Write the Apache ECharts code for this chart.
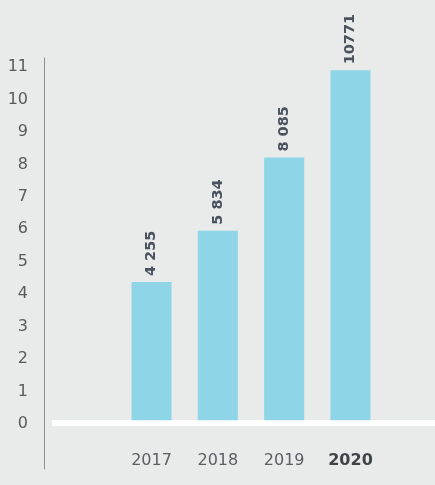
<!DOCTYPE html>
<html lang="en">
<head>
    <meta charset="utf-8"/>
    <title>Chart</title>
    <script src="https://cdn.jsdelivr.net/npm/echarts@6/dist/echarts.min.js"></script>
    <style>
        html, body { margin: 0; padding: 0; background: #e9eaea; }
        #main { width: 435px; height: 485px; }
    </style>
</head>
<body>
<div id="main"></div>
<script>
    // categories (empty slots on both ends keep the spacing of the original)
    var years = ['', '2017', '2018', '2019', '2020', ''];
    var values = [null, 4255, 5834, 8085, 10771, null];
    var valueLabels = ['', '4 255', '5 834', '8 085', '10771', ''];
    var yTicks = [0, 1000, 2000, 3000, 4000, 5000, 6000, 7000, 8000, 9000, 10000, 11000];

    var chartDom = document.getElementById('main');
    var myChart = echarts.init(chartDom);

    var xData = years.map(function (y, i) {
        if (i === 4) {
            return {value: y, textStyle: {fontWeight: 'bold', color: '#3f4448'}};
        }
        return y;
    });

    var option = {
        backgroundColor: '#e9eaea',
        textStyle: {fontFamily: 'DejaVu Sans'},
        grid: {left: 52, width: 398, top: 58, height: 411, outerBoundsMode: 'none'},
        xAxis: {
            type: 'category',
            data: xData,
            position: 'bottom',
            offset: -46,
            axisLine: {onZero: false, lineStyle: {color: '#ffffff', width: 6, cap: 'butt'}},
            axisTick: {show: false},
            axisLabel: {
                margin: 30,
                fontSize: 16,
                color: '#5b5f63',
                fontFamily: 'DejaVu Sans'
            },
            z: 1
        },
        yAxis: {
            type: 'value',
            min: -1500,
            max: 11150,
            offset: 8,
            splitLine: {show: false},
            axisTick: {show: false},
            axisLine: {show: true, lineStyle: {color: '#8e8e8e', width: 1}},
            axisLabel: {
                customValues: yTicks,
                margin: 16,
                fontSize: 16,
                color: '#5a5a5a',
                verticalAlign: 'top',
                padding: [-4, 0, 0, 0],
                fontFamily: 'DejaVu Sans',
                formatter: function (v) { return String(v / 1000); }
            }
        },
        series: [
            {
                type: 'bar',
                data: values,
                barWidth: 40,
                itemStyle: {color: '#8ed5e7'},
                label: {
                    show: true,
                    position: 'top',
                    distance: 6,
                    rotate: 90,
                    align: 'left',
                    verticalAlign: 'middle',
                    fontSize: 14.5,
                    fontWeight: 'bold',
                    color: '#4a525d',
                    fontFamily: 'DejaVu Sans',
                    formatter: function (p) { return valueLabels[p.dataIndex]; }
                },
                z: 2
            }
        ]
    };

    myChart.setOption(option);
</script>
</body>
</html>
